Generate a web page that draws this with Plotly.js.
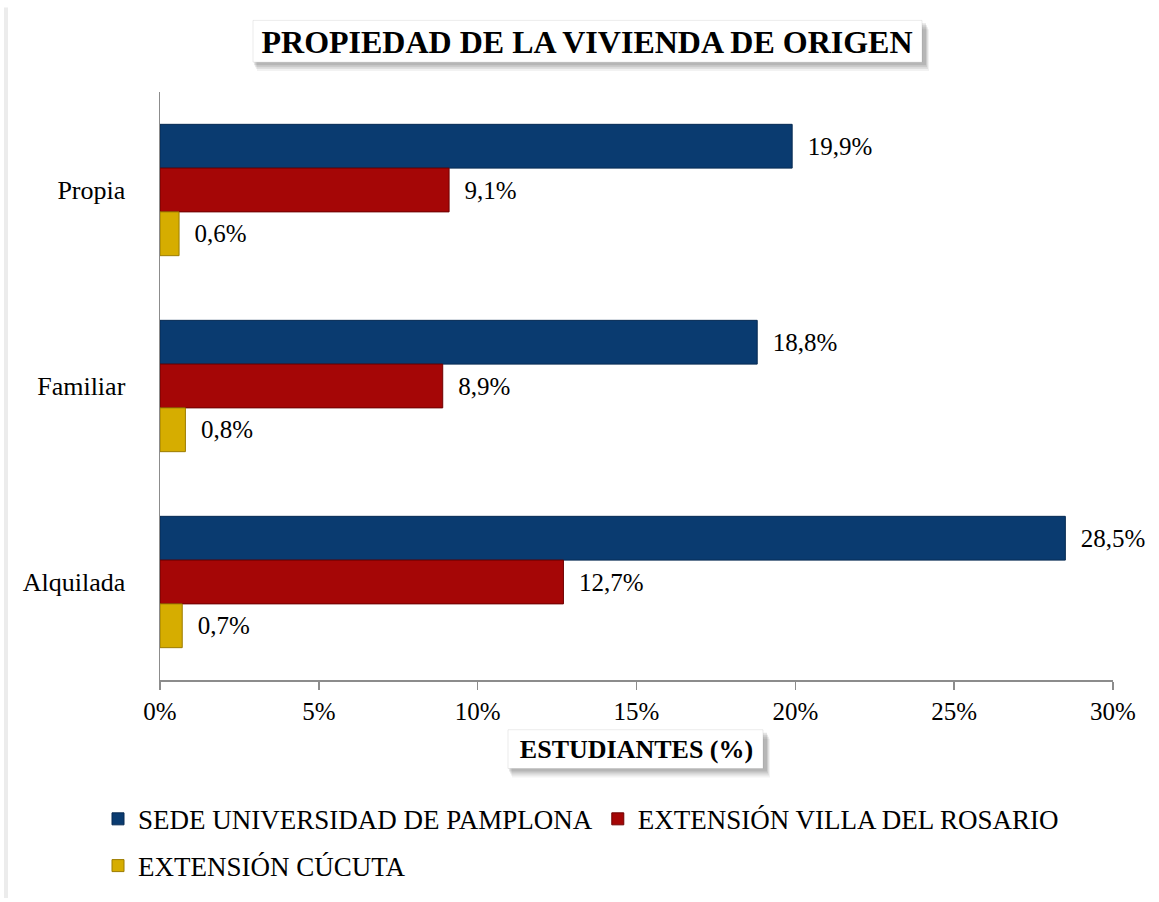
<!DOCTYPE html>
<html>
<head>
<meta charset="utf-8">
<script src="https://cdn.plot.ly/plotly-3.0.1.min.js"></script>
<style>
html,body{margin:0;padding:0;background:#fff;}
#chart{width:1159px;height:902px;}
</style>
</head>
<body>
<div id="chart"></div>
<script>
// ---- data ----
const categories = ['Propia', 'Familiar', 'Alquilada'];
const seriesNames = ['SEDE UNIVERSIDAD DE PAMPLONA', 'EXTENSIÓN VILLA DEL ROSARIO', 'EXTENSIÓN CÚCUTA'];
const pamplona = [19.9, 18.8, 28.5];
const villaRosario = [9.1, 8.9, 12.7];
const cucuta = [0.6, 0.8, 0.7];
const xTickValues = [0, 5, 10, 15, 20, 25, 30];
const chartTitle = 'PROPIEDAD DE LA VIVIENDA DE ORIGEN';
const xTitle = 'ESTUDIANTES (%)';

// ---- geometry ----
const W = 1159, H = 902;
const M = {l: 160, r: 46, t: 92, b: 219};
const PW = W - M.l - M.r, PH = H - M.t - M.b;
const px = x => (x - M.l) / PW;
const py = y => (H - M.b - y) / PH;

const FONT = 'Liberation Serif, Times New Roman, serif';
const colors = ['#0a3b70', '#a50606', '#d6ad00'];
const lineColors = ['#062a52', '#6e0000', '#9c7c00'];

function mk(name, vals, i, legendId) {
  return {
    type: 'bar', orientation: 'h', name: name,
    y: categories, x: vals,
    marker: {color: colors[i], line: {color: lineColors[i], width: 1}},
    texttemplate: '\u00a0\u00a0%{x:.1f}%',
    textposition: 'outside',
    cliponaxis: false,
    constraintext: 'none',
    textfont: {family: FONT, size: 25, color: '#000'},
    hoverinfo: 'x+y+name',
    legend: legendId
  };
}

const data = [
  mk(seriesNames[0], pamplona, 0, 'legend'),
  mk(seriesNames[1], villaRosario, 1, 'legend'),
  mk(seriesNames[2], cucuta, 2, 'legend2')
];

function shadowBox(x0, y0, x1, y1) {
  const s = [];
  const layers = [[7, 9, 0.05], [6, 7, 0.07], [5, 5, 0.09], [4, 3, 0.1]];
  layers.forEach(([dx, dy, op]) => {
    s.push({type: 'rect', xref: 'paper', yref: 'paper', layer: 'above',
      x0: px(x0 + dx - 3), x1: px(x1 + dx), y0: py(y0 + dy), y1: py(y1 + dy),
      fillcolor: 'rgba(0,0,0,' + op + ')', line: {width: 0}});
  });
  s.push({type: 'rect', xref: 'paper', yref: 'paper', layer: 'above',
    x0: px(x0), x1: px(x1), y0: py(y0), y1: py(y1),
    fillcolor: '#ffffff', line: {color: 'rgba(0,0,0,0.08)', width: 1}});
  return s;
}

const shapes = [].concat(
  shadowBox(253, 20, 922, 62),
  shadowBox(508, 733, 763, 772),
  [{type: 'line', xref: 'paper', yref: 'paper', x0: px(6), x1: px(6), y0: py(7), y1: py(H),
    line: {color: '#ececec', width: 4}}]
);

const layout = {
  width: W, height: H,
  margin: M,
  paper_bgcolor: '#fff', plot_bgcolor: '#fff',
  font: {family: FONT, size: 24, color: '#000'},
  separators: ',.',
  title: {
    text: '<b>' + chartTitle + '</b>',
    font: {family: FONT, size: 32, color: '#000'},
    xref: 'container', yref: 'container',
    x: 587 / W, xanchor: 'center',
    y: 1 - 42 / H, yanchor: 'middle'
  },
  barmode: 'group',
  bargap: 0.33,
  bargroupgap: 0,
  xaxis: {
    range: [0, 30],
    tickvals: xTickValues,
    ticktext: xTickValues.map(v => v + '%'),
    showgrid: false, zeroline: false,
    showline: true, linecolor: '#8c8c8c', linewidth: 1.5,
    ticks: 'outside', ticklen: 8, tickcolor: '#8c8c8c', tickwidth: 1.5,
    tickfont: {family: FONT, size: 25, color: '#000'},
    title: {text: '<b>' + xTitle + '</b>', font: {family: FONT, size: 26, color: '#000'}, standoff: 16},
    fixedrange: true
  },
  yaxis: {
    autorange: 'reversed',
    showgrid: false, zeroline: false,
    showline: true, linecolor: '#8c8c8c', linewidth: 1.5,
    ticks: '',
    ticklabelstandoff: 28,
    tickfont: {family: FONT, size: 26, color: '#000'},
    fixedrange: true
  },
  legend: {
    orientation: 'h', xref: 'paper', yref: 'paper',
    x: px(98), xanchor: 'left', y: py(823), yanchor: 'middle',
    font: {family: FONT, size: 27, color: '#000'},
    itemwidth: 30, bgcolor: 'rgba(0,0,0,0)'
  },
  legend2: {
    orientation: 'h', xref: 'paper', yref: 'paper',
    x: px(98), xanchor: 'left', y: py(870), yanchor: 'middle',
    font: {family: FONT, size: 27, color: '#000'},
    itemwidth: 30, bgcolor: 'rgba(0,0,0,0)'
  },
  shapes: shapes,
  showlegend: true
};

Plotly.newPlot('chart', data, layout, {displayModeBar: false, staticPlot: true});
</script>
</body>
</html>
